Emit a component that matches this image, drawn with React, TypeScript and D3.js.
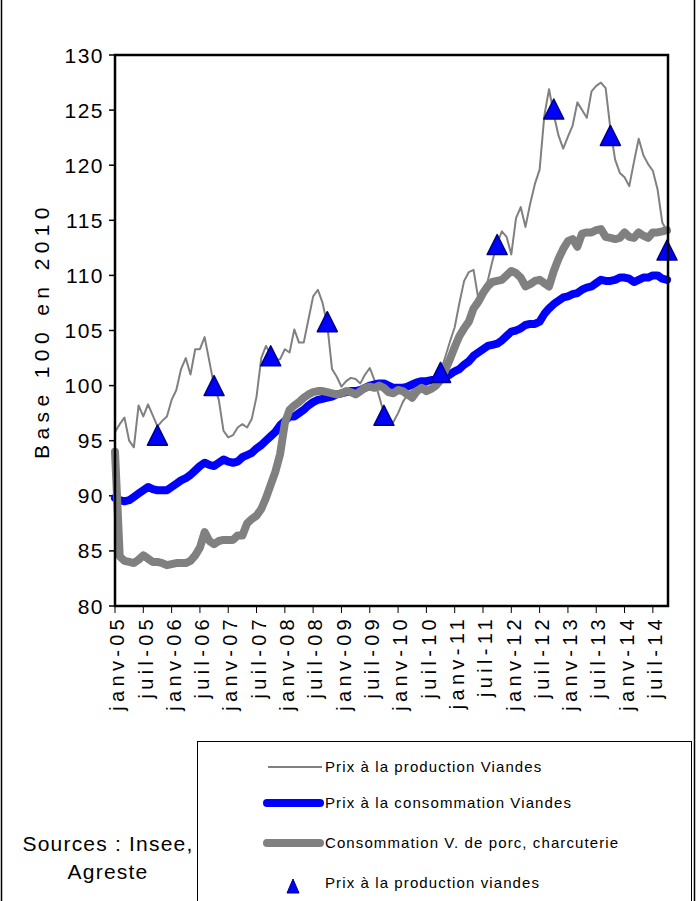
import React from "react";
import * as d3 from "d3";

// monthly series, janv-05 .. oct-14 (118 months), base 100 en 2010
const prodViandes = [
  95.8, 96.5, 97.1, 95.0, 94.4, 98.2, 97.2, 98.3, 97.3, 96.3,
  96.8, 97.2, 98.7, 99.6, 101.5, 102.5, 101.0, 103.3, 103.3, 104.4,
  102.2, 100.0, 98.7, 95.9, 95.3, 95.5, 96.2, 96.5, 96.2, 97.0,
  99.0, 102.5, 103.6, 102.8, 102.3, 102.4, 103.3, 103.0, 105.1, 103.9,
  103.9, 106.0, 108.1, 108.7, 107.5, 105.5, 101.5, 100.8, 99.9, 100.4,
  100.7, 100.6, 100.2, 101.0, 101.6, 100.5, 99.0, 97.5, 96.8, 96.7,
  97.5, 98.5, 99.2, 99.6, 100.0, 100.3, 100.0, 100.5, 100.9, 101.3,
  102.6, 104.0, 105.3, 107.5, 109.5, 110.3, 110.5, 107.9, 108.8, 109.5,
  111.3, 112.9, 114.0, 113.5, 111.9, 115.2, 116.2, 114.4, 116.5, 118.3,
  119.6, 124.5, 126.9, 124.6, 122.7, 121.5, 122.6, 123.6, 125.7, 125.0,
  124.3, 126.7, 127.2, 127.5, 127.0, 123.3, 120.5, 119.3, 118.9, 118.1,
  120.3, 122.4, 120.9, 120.1, 119.5, 117.8, 114.8, 114.0,
];

const consoViandes = [
  89.8, 89.6, 89.5, 89.6, 89.9, 90.2, 90.5, 90.8, 90.6, 90.5,
  90.5, 90.5, 90.8, 91.1, 91.4, 91.6, 91.9, 92.3, 92.7, 93.0,
  92.8, 92.7, 93.0, 93.3, 93.1, 93.0, 93.1, 93.5, 93.7, 93.9,
  94.3, 94.6, 95.0, 95.4, 95.8, 96.4, 96.8, 97.2, 97.2, 97.5,
  97.8, 98.2, 98.5, 98.7, 98.8, 98.9, 99.0, 99.2, 99.3, 99.4,
  99.5, 99.5, 99.6, 99.8, 100.0, 100.1, 100.2, 100.2, 100.0, 99.8,
  99.8, 99.8, 99.9, 100.1, 100.3, 100.4, 100.4, 100.5, 100.5, 100.6,
  100.8, 101.0, 101.3, 101.5, 101.9, 102.2, 102.7, 103.0, 103.3, 103.6,
  103.7, 103.8, 104.1, 104.5, 104.9, 105.0, 105.2, 105.5, 105.6, 105.6,
  105.8, 106.5, 107.0, 107.4, 107.7, 108.0, 108.1, 108.3, 108.4, 108.7,
  108.9, 109.0, 109.3, 109.6, 109.5, 109.5, 109.6, 109.8, 109.8, 109.7,
  109.4, 109.6, 109.8, 109.8, 110.0, 110.0, 109.7, 109.6,
];

const consoPorc = [
  94.0, 84.5, 84.1, 84.0, 83.9, 84.2, 84.6, 84.3, 84.0, 84.0,
  83.9, 83.7, 83.8, 83.9, 83.9, 83.9, 84.1, 84.6, 85.3, 86.7,
  85.9, 85.6, 85.9, 86.0, 86.0, 86.0, 86.4, 86.4, 87.5, 87.9,
  88.2, 88.8, 89.8, 91.0, 92.2, 93.8, 96.6, 97.8, 98.2, 98.5,
  98.9, 99.2, 99.4, 99.5, 99.5, 99.4, 99.3, 99.2, 99.3, 99.5,
  99.4, 99.2, 99.5, 99.8, 99.9, 99.8, 100.0, 99.8, 99.4, 99.3,
  99.6, 99.5, 99.2, 98.9, 99.5, 99.8, 99.5, 99.7, 100.0, 100.5,
  101.4, 102.4, 103.5, 104.5, 105.2, 105.8, 107.0, 107.6, 108.4, 109.0,
  109.4, 109.5, 109.6, 110.0, 110.4, 110.2, 109.8, 109.0, 109.2, 109.5,
  109.6, 109.3, 109.0, 110.4, 111.5, 112.4, 113.1, 113.3, 112.6, 113.8,
  113.9, 113.9, 114.1, 114.2, 113.5, 113.4, 113.3, 113.4, 113.9, 113.5,
  113.4, 113.9, 113.6, 113.4, 113.9, 113.9, 114.0, 114.1,
];

// octobre de chaque année
const triMonths = [9, 21, 33, 45, 57, 69, 81, 93, 105, 117];
const triValues = [95.5, 100.0, 102.7, 105.8, 97.3, 101.2, 112.8, 125.1, 122.7, 112.3];

const tickLabels = [
  "janv-05", "juil-05", "janv-06", "juil-06", "janv-07", "juil-07", "janv-08",
  "juil-08", "janv-09", "juil-09", "janv-10", "juil-10", "janv-11", "juil-11",
  "janv-12", "juil-12", "janv-13", "juil-13", "janv-14", "juil-14",
];
const yTicks = [80, 85, 90, 95, 100, 105, 110, 115, 120, 125, 130];

const legendItems = [
  "Prix à la production Viandes",
  "Prix à la consommation Viandes",
  "Consommation V. de porc, charcuterie",
  "Prix à la production viandes",
];

const FONT = "'Liberation Sans', Arial, sans-serif";

const tri = (cx: number, cy: number, hw: number, hh: number) =>
  `M${cx},${cy - hh}L${cx + hw},${cy + hh}L${cx - hw},${cy + hh}Z`;

export default function App() {
  const W = 698, H = 901;
  const x = d3.scaleLinear().domain([0, prodViandes.length - 1]).range([115, 667]);
  const y = d3.scaleLinear().domain([80, 130]).range([606, 55]);

  const line = d3.line<number>()
    .x((d, i) => x(i))
    .y((d) => y(d));

  const legendY = [767, 803, 843, 883];

  return (
    <svg width={W} height={H} style={{ position: "absolute", left: 0, top: 0 }} fontFamily={FONT}>
      <rect x={0} y={0} width={W} height={H} fill="#fff" />
      {/* outer frame */}
      <line x1={1.5} y1={0} x2={1.5} y2={H} stroke="#000" strokeWidth={1.5} />
      <line x1={694.5} y1={0} x2={694.5} y2={H} stroke="#000" strokeWidth={1.5} />

      {/* y ticks + labels */}
      {yTicks.map((t) => (
        <g key={t}>
          <line x1={109} x2={115} y1={y(t)} y2={y(t)} stroke="#000" strokeWidth={1.5} />
          <text x={104} y={y(t)} dy="0.36em" textAnchor="end" fontSize={21} letterSpacing={1.5}>
            {t}
          </text>
        </g>
      ))}
      <text
        transform={`translate(41,${(y(80) + y(130)) / 2}) rotate(-90)`}
        textAnchor="middle"
        dy="0.36em"
        fontSize={21}
        letterSpacing={5.4}
      >
        Base 100 en 2010
      </text>

      {/* x ticks + labels */}
      {tickLabels.map((lab, k) => (
        <g key={lab}>
          <line x1={x(k * 6)} x2={x(k * 6)} y1={606} y2={613} stroke="#000" strokeWidth={1} />
          <text
            transform={`translate(${x(k * 6) + 2},${615}) rotate(-90)`}
            textAnchor="end"
            dy="0.36em"
            fontSize={20}
            letterSpacing={4.3}
          >
            {lab}
          </text>
        </g>
      ))}

      {/* series */}
      <path d={line(prodViandes) || ""} fill="none" stroke="#808080" strokeWidth={2} strokeLinejoin="round" />
      <path d={line(consoViandes) || ""} fill="none" stroke="#0000ff" strokeWidth={8} strokeLinejoin="round" strokeLinecap="round" />
      <path d={line(consoPorc) || ""} fill="none" stroke="#808080" strokeWidth={8} strokeLinejoin="round" strokeLinecap="round" />
      {triMonths.map((m, k) => (
        <path key={m} d={tri(x(m), y(triValues[k]), 10, 10)} fill="#0000ff" stroke="#000080" strokeWidth={1.5} strokeLinejoin="round" />
      ))}

      {/* plot frame */}
      <rect x={115} y={55} width={553} height={551} fill="none" stroke="#000" strokeWidth={2.5} />

      {/* legend */}
      <rect x={197.5} y={741.5} width={494} height={170} fill="#fff" stroke="#000" strokeWidth={1} />
      <line x1={268} x2={322} y1={legendY[0]} y2={legendY[0]} stroke="#808080" strokeWidth={2} />
      <line x1={267} x2={320} y1={legendY[1]} y2={legendY[1]} stroke="#0000ff" strokeWidth={8} strokeLinecap="round" />
      <line x1={267} x2={320} y1={legendY[2]} y2={legendY[2]} stroke="#808080" strokeWidth={8} strokeLinecap="round" />
      <path d={tri(293, legendY[3] + 3, 6, 7)} fill="#0000ff" stroke="#000080" strokeWidth={1} />
      {legendItems.map((t, k) => (
        <text key={k} x={325} y={legendY[k]} dy="0.36em" fontSize={15} letterSpacing={1.1}>
          {t}
        </text>
      ))}

      {/* sources */}
      <text x={108} y={843} dy="0.36em" textAnchor="middle" fontSize={21} letterSpacing={1.2}>
        Sources : Insee,
      </text>
      <text x={108} y={871} dy="0.36em" textAnchor="middle" fontSize={21} letterSpacing={1.2}>
        Agreste
      </text>
    </svg>
  );
}
